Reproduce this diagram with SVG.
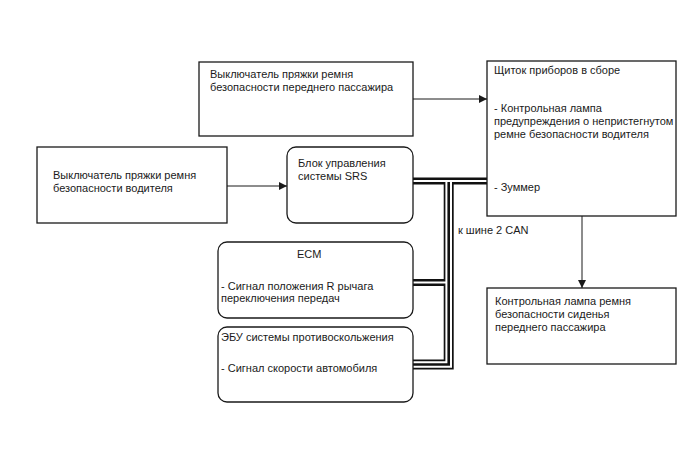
<svg xmlns="http://www.w3.org/2000/svg" width="688" height="463" viewBox="0 0 688 463">
<defs>
<style>
.box{fill:#fff;stroke:#1a1a1a;stroke-width:1.3}
.t{font-family:"Liberation Sans",Arial,sans-serif;font-size:11px;fill:#1a1a1a}
.ln{fill:none;stroke:#1a1a1a;stroke-width:1}
.busb{fill:none;stroke:#111;stroke-linejoin:miter}
.busw{fill:none;stroke:#fff;stroke-width:2;stroke-linejoin:miter}
</style>
<marker id="ah" viewBox="0 0 10 10" refX="10" refY="5" markerWidth="10" markerHeight="8" markerUnits="userSpaceOnUse" orient="auto">
<path d="M0,0 L10,5 L0,10 z" fill="#1a1a1a"/>
</marker>
</defs>
<rect width="688" height="463" fill="#fff"/>

<g id="connectors">
<line class="ln" x1="413" y1="99" x2="487" y2="99" marker-end="url(#ah)"/>
<line class="ln" x1="227" y1="186" x2="287" y2="186" marker-end="url(#ah)"/>
<line class="ln" x1="582" y1="216" x2="582" y2="288" marker-end="url(#ah)"/>
<!-- CAN bus -->
<line class="busb" x1="413" y1="181" x2="487" y2="181" stroke-width="7"/>
<polyline class="busb" points="413,364.5 448.7,364.5 448.7,181" stroke-width="10"/>
<line class="busb" x1="413" y1="282.5" x2="446" y2="282.5" stroke-width="7"/>
<polyline class="busw" points="413,362.2 446.4,362.2 446.4,181"/>
<polyline class="busw" points="413,366.8 451,366.8 451,181"/>
<line class="busw" x1="413" y1="282.5" x2="447" y2="282.5"/>
<line class="busw" x1="413" y1="181" x2="487" y2="181"/>
</g>

<g id="node-passenger-switch">
<rect class="box" x="199" y="62" width="214" height="74"/>
<text class="t" x="210" y="78">Выключатель пряжки ремня</text>
<text class="t" x="210" y="91">безопасности переднего пассажира</text>
</g>

<g id="node-cluster">
<rect class="box" x="487" y="61" width="189" height="155"/>
<text class="t" x="494" y="74">Щиток приборов в сборе</text>
<text class="t" x="494" y="112">- Контрольная лампа</text>
<text class="t" x="494" y="125">предупреждения о непристегнутом</text>
<text class="t" x="494" y="138">ремне безопасности водителя</text>
<text class="t" x="494" y="191">- Зуммер</text>
</g>

<g id="node-driver-switch">
<rect class="box" x="37" y="147" width="190" height="76"/>
<text class="t" x="53" y="179">Выключатель пряжки ремня</text>
<text class="t" x="53" y="192">безопасности водителя</text>
</g>

<g id="node-srs">
<rect class="box" x="287" y="147" width="126" height="76" rx="9"/>
<text class="t" x="298" y="167">Блок управления</text>
<text class="t" x="298" y="180">системы SRS</text>
</g>

<g id="node-ecm">
<rect class="box" x="218" y="242" width="195" height="76" rx="9"/>
<text class="t" x="297" y="258">ECM</text>
<text class="t" x="221" y="290">- Сигнал положения R рычага</text>
<text class="t" x="221" y="302">переключения передач</text>
</g>

<g id="node-abs">
<rect class="box" x="218" y="327" width="195" height="75" rx="9"/>
<text class="t" x="221" y="341">ЭБУ системы противоскольжения</text>
<text class="t" x="221" y="372">- Сигнал скорости автомобиля</text>
</g>

<g id="node-passenger-lamp">
<rect class="box" x="487" y="288" width="189" height="76"/>
<text class="t" x="495" y="305">Контрольная лампа ремня</text>
<text class="t" x="495" y="318">безопасности сиденья</text>
<text class="t" x="495" y="331">переднего пассажира</text>
</g>

<text class="t" x="458" y="234">к шине 2 CAN</text>
</svg>
